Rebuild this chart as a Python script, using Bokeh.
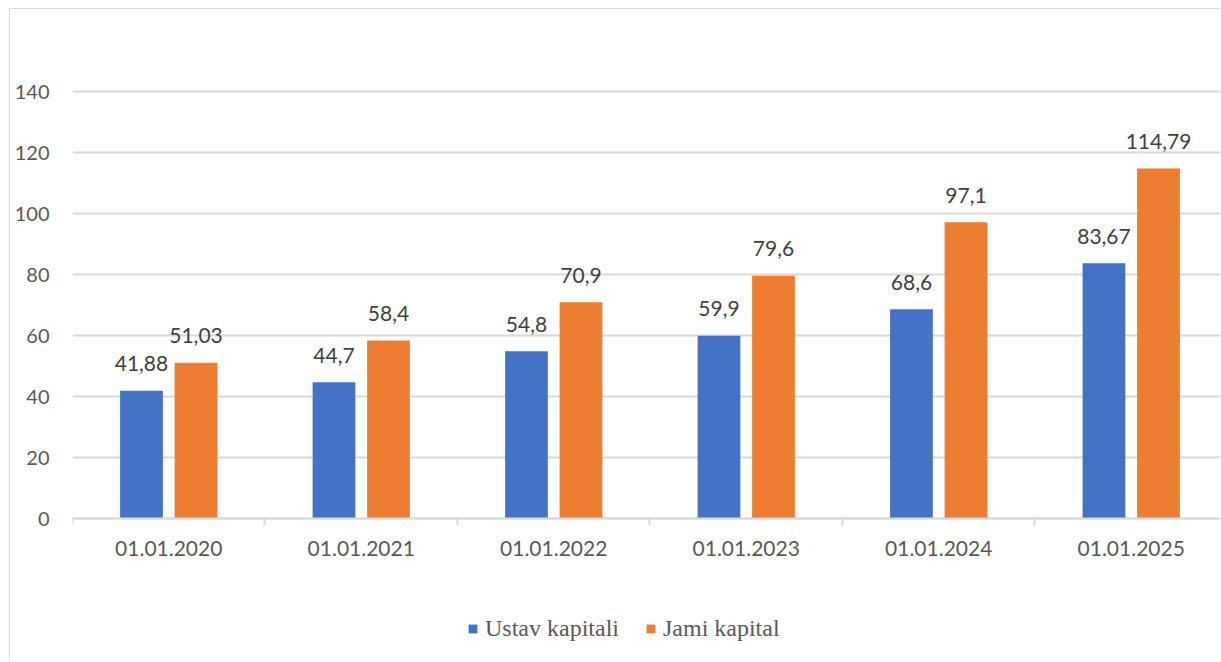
from bokeh.plotting import figure
from bokeh.models import ColumnDataSource, Range1d, FixedTicker, LabelSet, Legend, LegendItem
from bokeh.transform import dodge
from bokeh.core.properties import value
from bokeh.embed import file_html
from bokeh.resources import INLINE

categories = ["01.01.2020", "01.01.2021", "01.01.2022", "01.01.2023", "01.01.2024", "01.01.2025"]
ustav = [41.88, 44.7, 54.8, 59.9, 68.6, 83.67]
jami = [51.03, 58.4, 70.9, 79.6, 97.1, 114.79]
series_names = ["Ustav kapitali", "Jami kapital"]
y_ticks = [0, 20, 40, 60, 80, 100, 120, 140]

BLUE = "#4472C4"
ORANGE = "#ED7D31"
GRID = "#D9D9D9"

pos = [i + 0.5 for i in range(len(categories))]
src = ColumnDataSource(dict(
    x=pos, ustav=ustav, jami=jami,
    ustav_lbl=[str(v).replace(".", ",") for v in ustav],
    jami_lbl=[str(v).replace(".", ",") for v in jami],
))

p = figure(width=1211, height=653, output_backend="svg", toolbar_location=None,
           x_range=Range1d(0, 5.969), y_range=Range1d(-47.21, 160),
           min_border_left=62, min_border_right=0, min_border_top=21, min_border_bottom=0)
p.styles = {"margin-left": "9px", "margin-top": "8px",
            "border-top": "1px solid #D9D9D9", "border-left": "1px solid #D9D9D9"}
p.outline_line_color = None
p.background_fill_color = "white"
p.border_fill_color = "white"

off = 0.1416
w = 0.222
r1 = p.vbar(x=dodge("x", -off), top="ustav", bottom=0, width=w, source=src, fill_color=BLUE, line_color=None)
r2 = p.vbar(x=dodge("x", off), top="jami", bottom=0, width=w, source=src, fill_color=ORANGE, line_color=None)

for col, lbl, o in (("ustav", "ustav_lbl", -off), ("jami", "jami_lbl", off)):
    p.add_layout(LabelSet(x=dodge("x", o), y=col, text=lbl, source=src,
                          text_align="center", text_baseline="middle", y_offset=27,
                          text_font=value("Lato"), text_font_size="21px", text_color="#404040"))

# x axis, drawn at value 0
xa = p.xaxis[0]
xa.fixed_location = 0
xa.ticker = FixedTicker(ticks=pos, minor_ticks=list(range(len(categories) + 1)))
xa.major_label_overrides = {p_: c for p_, c in zip(pos, categories)}
xa.major_tick_out = 0
xa.major_tick_in = 0
xa.minor_tick_out = 7
xa.minor_tick_in = 0
xa.minor_tick_line_color = GRID
xa.minor_tick_line_width = 2
xa.axis_line_color = GRID
xa.axis_line_width = 2
xa.major_label_standoff = 15
xa.major_label_text_font = "Lato"
xa.major_label_text_font_size = "21px"
xa.major_label_text_color = "#595959"

# y axis
ya = p.yaxis[0]
ya.ticker = FixedTicker(ticks=y_ticks)
ya.axis_line_color = None
ya.major_tick_line_color = None
ya.minor_tick_line_color = None
ya.major_tick_out = 0
ya.major_tick_in = 0
ya.minor_tick_out = 0
ya.minor_tick_in = 0
ya.major_label_standoff = 23
ya.major_label_text_font = "Lato"
ya.major_label_text_font_size = "20px"
ya.major_label_text_color = "#595959"

p.xgrid.grid_line_color = None
p.ygrid.grid_line_color = GRID
p.ygrid.grid_line_width = 2
p.ygrid.ticker = FixedTicker(ticks=y_ticks)

legend = Legend(items=[LegendItem(label=series_names[0], renderers=[r1]),
                       LegendItem(label=series_names[1], renderers=[r2])],
                orientation="horizontal", location=(395, 20),
                glyph_width=11, glyph_height=11, label_standoff=7, spacing=26,
                label_text_font="Liberation Serif", label_text_font_size="24px",
                label_text_color="#595959", border_line_color=None,
                background_fill_alpha=0, padding=0, margin=0)
p.add_layout(legend, "center")

open("out.html", "w").write(file_html(p, INLINE))
